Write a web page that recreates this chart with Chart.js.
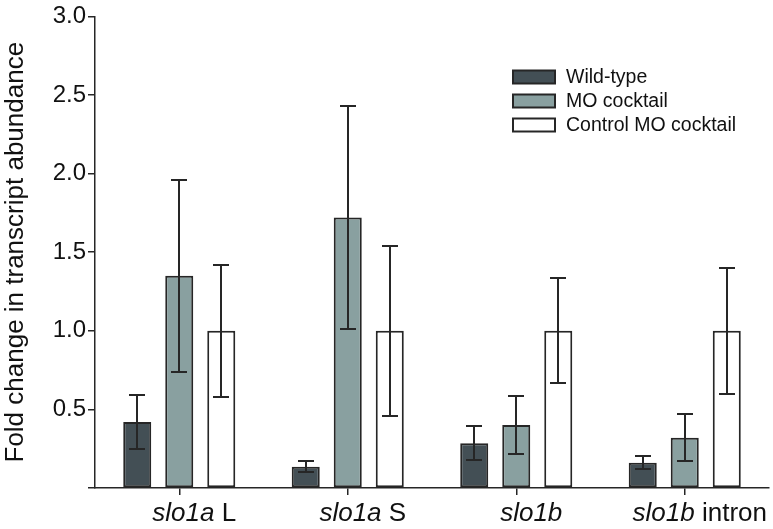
<!DOCTYPE html>
<html>
<head>
<meta charset="utf-8">
<script src="https://cdn.jsdelivr.net/npm/chart.js@4.4.1/dist/chart.umd.min.js"></script>
<style>
  html, body { margin: 0; padding: 0; background: #fff; }
  canvas { display: block; }
</style>
</head>
<body>
<canvas id="chart" width="773" height="529"></canvas>
<script>
// gene names (first word) are set in italics
const categories = ['slo1a L', 'slo1a S', 'slo1b', 'slo1b intron'];

const wildType = [0.42, 0.135, 0.285, 0.16];
const wildTypeErr = [0.17, 0.035, 0.11, 0.042];

const moCocktail = [1.35, 1.72, 0.40, 0.32];
const moCocktailErr = [0.61, 0.71, 0.185, 0.15];

const controlMo = [1.0, 1.0, 1.0, 1.0];
const controlMoErr = [0.42, 0.54, 0.335, 0.40];

const FONT = '"Liberation Sans", Arial, Helvetica, sans-serif';
const INK = '#262626';

const errorBars = {
  id: 'errorBars',
  afterDatasetsDraw(chart) {
    const { ctx, scales: { y } } = chart;
    ctx.save();
    ctx.strokeStyle = INK;
    ctx.lineWidth = 2;
    chart.data.datasets.forEach((ds, i) => {
      chart.getDatasetMeta(i).data.forEach((bar, j) => {
        const v = ds.data[j], e = ds.errors[j];
        const top = Math.round(y.getPixelForValue(v + e));
        const bot = Math.round(y.getPixelForValue(v - e));
        const x = Math.round(bar.x);
        ctx.beginPath();
        ctx.moveTo(x, top); ctx.lineTo(x, bot);
        ctx.moveTo(x - 8, top); ctx.lineTo(x + 8, top);
        ctx.moveTo(x - 8, bot); ctx.lineTo(x + 8, bot);
        ctx.stroke();
      });
    });
    ctx.restore();
  }
};

const categoryLabels = {
  id: 'categoryLabels',
  afterDraw(chart) {
    const { ctx, scales: { x } } = chart;
    ctx.save();
    ctx.fillStyle = '#111';
    ctx.textBaseline = 'alphabetic';
    ctx.textAlign = 'left';
    categories.forEach((label, i) => {
      const sp = label.indexOf(' ');
      const gene = sp < 0 ? label : label.slice(0, sp);
      const rest = sp < 0 ? '' : label.slice(sp);
      ctx.font = 'italic 26px ' + FONT;
      const w1 = ctx.measureText(gene).width;
      ctx.font = '26px ' + FONT;
      const w2 = ctx.measureText(rest).width;
      const cx = x.getPixelForTick(i) + 15;
      let left = cx - (w1 + w2) / 2;
      ctx.font = 'italic 26px ' + FONT;
      ctx.fillText(gene, left, 521);
      ctx.font = '26px ' + FONT;
      ctx.fillText(rest, left + w1, 521);
    });
    ctx.restore();
  }
};

const boxLegend = {
  id: 'boxLegend',
  afterDraw(chart) {
    const { ctx } = chart;
    ctx.save();
    ctx.font = '19.5px ' + FONT;
    ctx.textBaseline = 'middle';
    chart.data.datasets.forEach((ds, i) => {
      const yc = 77 + i * 24;
      ctx.fillStyle = ds.backgroundColor;
      ctx.fillRect(513, yc - 6.5, 42, 13);
      ctx.strokeStyle = INK;
      ctx.lineWidth = 2;
      ctx.strokeRect(513, yc - 6.5, 42, 13);
      ctx.fillStyle = '#111';
      ctx.fillText(ds.label, 566, yc + 1);
    });
    ctx.restore();
  }
};

const barStyle = { borderColor: INK, borderWidth: 2, borderSkipped: false,
  categoryPercentage: 0.748, barPercentage: 0.667 };

new Chart(document.getElementById('chart'), {
  type: 'bar',
  data: {
    labels: categories,
    datasets: [
      { label: 'Wild-type', data: wildType, errors: wildTypeErr,
        backgroundColor: '#434f55', ...barStyle },
      { label: 'MO cocktail', data: moCocktail, errors: moCocktailErr,
        backgroundColor: '#89a0a0', ...barStyle },
      { label: 'Control MO cocktail', data: controlMo, errors: controlMoErr,
        backgroundColor: '#ffffff', ...barStyle }
    ]
  },
  options: {
    responsive: false,
    devicePixelRatio: 1,
    animation: false,
    layout: { padding: { top: 16, right: 4, left: 0, bottom: 0 } },
    plugins: { legend: { display: false }, tooltip: { enabled: false } },
    scales: {
      x: {
        grid: { offset: false, drawOnChartArea: false, drawTicks: true,
                tickLength: 7, color: INK, lineWidth: 1.5 },
        border: { display: true, color: INK, width: 1.5 },
        ticks: { display: false },
        afterFit(scale) { scale.height = 41; }
      },
      y: {
        min: 0, max: 3,
        grid: { drawOnChartArea: false, drawTicks: true, tickLength: 7,
                color: INK, lineWidth: 1.5 },
        border: { display: true, color: INK, width: 1.5 },
        ticks: {
          stepSize: 0.5, padding: 2, color: '#111',
          font: { family: FONT, size: 24 },
          callback: v => v === 0 ? '' : v.toFixed(1)
        },
        title: {
          display: true, text: 'Fold change in transcript abundance',
          color: '#111', font: { family: FONT, size: 26 },
          padding: { top: 0, bottom: 0 }
        },
        afterFit(scale) { scale.width = 95; }
      }
    }
  },
  plugins: [errorBars, categoryLabels, boxLegend]
});
</script>
</body>
</html>
